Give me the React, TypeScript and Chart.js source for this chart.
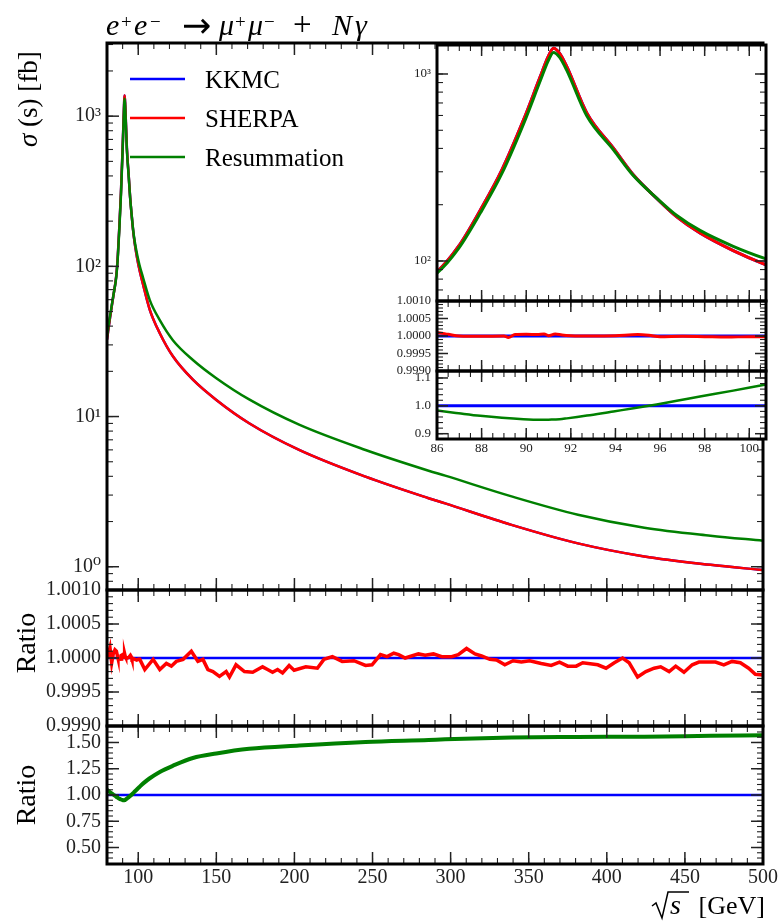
import React, { useEffect, useRef } from "react";
import { Chart, registerables } from "chart.js";

Chart.register(...registerables);

const SERIF = '"Liberation Serif", "DejaVu Serif", serif';

// ---------------- data ----------------
// centre-of-mass energy sqrt(s) [GeV]
const sqrtS = [
  80, 82, 84, 86, 86.97, 87.94, 88.91, 89.88, 90.63, 91.0, 91.22, 91.5, 91.82, 92.72,
  93.91, 94.81, 95.85, 96.75, 97.79, 99.28, 100.75, 103.2, 107.4, 113.8, 122.3, 135,
  150, 171, 203, 245.5, 285.9, 296.5, 339, 381.5, 424, 466.4, 500,
];
// sigma(s) [fb]
const kkmcXsec = [
  32.5, 46, 63, 87.7, 120, 187, 307, 568, 968, 1250, 1372, 1290, 1094, 617,
  401, 288, 216, 172, 141, 113.6, 95.3, 75, 51.4, 35.9, 25.1, 17.6,
  12.9, 9.03, 6.0, 3.98, 2.86, 2.64, 1.9, 1.43, 1.17, 1.03, 0.95,
];
const sherpaXsec = [
  32.5, 46, 63, 87.7, 120, 187, 307, 568, 968, 1250, 1372, 1290, 1094, 617,
  401, 288, 216, 172, 141, 113.6, 95.3, 75, 51.4, 35.9, 25.1, 17.6,
  12.9, 9.03, 6.0, 3.98, 2.86, 2.64, 1.9, 1.43, 1.17, 1.03, 0.95,
];
const resumXsec = [
  34.1, 47.2, 63.3, 86.2, 116.8, 180.3, 293.8, 540.7, 919.6, 1187.5, 1304.8, 1228, 1044.8, 595.4,
  393, 285.4, 217.1, 175.1, 145.7, 119.8, 102.6, 83.3, 59.6, 43.8, 32.1, 23.8,
  18.0, 13.0, 8.83, 5.99, 4.36, 4.04, 2.94, 2.22, 1.82, 1.61, 1.49,
];
// SHERPA / KKMC ratio (statistical wiggles)
const sherpaRatioS = [
  80, 80.8, 81.9, 83.0, 84.0, 85.1, 86.0, 86.5, 87.0, 88.0, 89.0, 89.2, 89.5, 90.0, 90.5,
  90.8, 91.0, 91.3, 91.6, 92.0, 93.0, 94.0, 95.0, 95.5, 96.0, 97.0, 98.0, 99.0, 100.0,
  101.0, 104.2, 109.5, 113.8, 118.0, 121.2, 124.4, 128.7, 134.0, 138.2, 141.4, 144.6,
  147.8, 152.0, 156.3, 158.4, 162.6, 168.0, 173.3, 179.6, 182.8, 186.0, 189.2, 192.4,
  196.6, 199.8, 207.3, 214.7, 218.9, 224.3, 230.6, 238.1, 245.5, 249.7, 255.1, 259.3,
  263.6, 266.7, 270.9, 279.4, 283.7, 289.0, 294.3, 300.7, 304.9, 310.2, 315.6, 319.8,
  325.1, 329.4, 334.7, 340.0, 345.3, 350.6, 358.0, 364.4, 369.7, 375.0, 380.4, 384.6,
  394.2, 399.5, 404.8, 410.1, 414.3, 419.7, 425.0, 430.3, 434.5, 439.9, 444.1, 449.4,
  454.7, 459.0, 464.3, 469.6, 474.9, 480.2, 485.5, 490.8, 495.1, 500.0,
];
const sherpaRatio = [
  1.00008, 1.00005, 1.00015, 0.99993, 1.00006, 1.00012, 1.0001, 1.00005, 1.0, 0.99999, 1.0,
  0.99996, 1.00004, 1.00005, 1.00004, 1.00006, 1.00001, 1.00006, 1.00003, 1.00001, 1.0,
  1.00001, 1.00004, 1.00002, 0.99998, 0.99999, 0.99998, 0.99997, 0.99998, 0.99998,
  0.99983, 0.99998, 0.99983, 0.99992, 0.99988, 0.99995, 0.99998, 1.0001, 0.99995, 0.99998,
  0.99983, 0.9998, 0.99973, 0.9998, 0.99972, 0.9999, 0.9998, 0.99979, 0.99987, 0.99983,
  0.99979, 0.99983, 0.99978, 0.99989, 0.99982, 0.99987, 0.99985, 0.99998, 1.00002,
  0.99995, 0.99996, 0.99989, 0.9999, 1.00005, 1.00002, 1.00007, 1.00005, 1.0, 1.00006,
  1.00004, 1.00006, 1.00002, 1.00002, 1.00005, 1.00014, 1.00006, 1.00003, 0.99998,
  0.99997, 0.9999, 0.99996, 0.99994, 0.99996, 0.99992, 0.99989, 0.99994, 0.99988,
  0.99988, 0.99993, 0.9999, 0.99985, 0.99993, 1.0, 0.99993, 0.99972, 0.9998, 0.99985,
  0.99987, 0.9998, 0.99988, 0.99979, 0.9999, 0.99994, 0.99994, 0.99994, 0.9999,
  0.99995, 0.99993, 0.99985, 0.99976, 0.99975,
];

// tick labels
const mainXTicks = [100, 150, 200, 250, 300, 350, 400, 450, 500];
const mainLogTicks = [1, 10, 100, 1000];
const ratio1Ticks = [0.999, 0.9995, 1.0, 1.0005, 1.001];
const ratio2Ticks = [0.5, 0.75, 1.0, 1.25, 1.5];
const insetXTicks = [86, 88, 90, 92, 94, 96, 98, 100];
const insetLogTicks = [100, 1000];
const insetRatio2Ticks = [0.9, 1.0, 1.1];
const SUP: Record<string, string> = { "1": "10⁰", "10": "10¹", "100": "10²", "1000": "10³" };

// ---------------- helpers ----------------
const pts = (xs: number[], ys: number[]) => xs.map((x, i) => ({ x, y: ys[i] }));
const unity = (xs: number[]) => xs.map((x) => ({ x, y: 1 }));
const ratioPts = (xs: number[], a: number[], b: number[]) => xs.map((x, i) => ({ x, y: a[i] / b[i] }));

function stepTicks(min: number, max: number, step: number) {
  const out: number[] = [];
  const n0 = Math.ceil(min / step - 1e-9);
  const n1 = Math.floor(max / step + 1e-9);
  for (let n = n0; n <= n1; n++) out.push(+(n * step).toFixed(10));
  return out;
}
function logMinor(min: number, max: number) {
  const out: number[] = [];
  for (let d = Math.floor(Math.log10(min)); d <= Math.ceil(Math.log10(max)); d++) {
    for (let k = 1; k <= 9; k++) {
      const v = k * Math.pow(10, d);
      if (v >= min && v <= max) out.push(v);
    }
  }
  return out;
}

type Panel = { id: string; major: number[]; minor: number[] };

function framePlugin(cfg: {
  xMajor: number[];
  xMinor: number[];
  panels: Panel[];
  majLen: number;
  minLen: number;
  frame: number;
  white?: boolean;
}) {
  return {
    id: "frameTicks",
    beforeDraw(chart: any) {
      if (!cfg.white) return;
      const { left, right, top, bottom } = chart.chartArea;
      const ctx = chart.ctx;
      ctx.save();
      ctx.fillStyle = "#ffffff";
      ctx.fillRect(left, top, right - left, bottom - top);
      ctx.restore();
    },
    afterDraw(chart: any) {
      const ctx = chart.ctx;
      const xs = chart.scales.x;
      const { left, right } = chart.chartArea;
      ctx.save();
      ctx.strokeStyle = "#222";
      ctx.lineCap = "butt";
      const seg = (x1: number, y1: number, x2: number, y2: number, w: number) => {
        ctx.lineWidth = w;
        ctx.beginPath();
        ctx.moveTo(x1, y1);
        ctx.lineTo(x2, y2);
        ctx.stroke();
      };
      for (const p of cfg.panels) {
        const ys = chart.scales[p.id];
        const top = ys.top;
        const bottom = ys.bottom;
        const xt = (vals: number[], len: number, w: number) =>
          vals.forEach((v) => {
            const x = xs.getPixelForValue(v);
            if (x <= left + 1.5 || x >= right - 1.5) return;
            seg(x, top, x, top + len, w);
            seg(x, bottom, x, bottom - len, w);
          });
        const yt = (vals: number[], len: number, w: number) =>
          vals.forEach((v) => {
            const y = ys.getPixelForValue(v);
            if (y <= top + 1.5 || y >= bottom - 1.5) return;
            seg(left, y, left + len, y, w);
            seg(right, y, right - len, y, w);
          });
        xt(cfg.xMinor, cfg.minLen, 1.1);
        xt(cfg.xMajor, cfg.majLen, 1.5);
        yt(p.minor, cfg.minLen, 1.1);
        yt(p.major, cfg.majLen, 1.5);
      }
      ctx.strokeStyle = "#000";
      ctx.lineWidth = cfg.frame;
      for (const p of cfg.panels) {
        const ys = chart.scales[p.id];
        ctx.strokeRect(left, ys.top, right - left, ys.bottom - ys.top);
      }
      ctx.restore();
    },
  };
}

const textPlugin = {
  id: "texts",
  afterDraw(chart: any) {
    const ctx = chart.ctx;
    const it = (px: number) => `italic ${px}px ${SERIF}`;
    const rm = (px: number) => `${px}px ${SERIF}`;
    ctx.save();
    ctx.fillStyle = "#000";
    ctx.textBaseline = "alphabetic";
    ctx.textAlign = "left";
    const T = (s: string, font: string, x: number, y: number) => {
      ctx.font = font;
      ctx.fillText(s, x, y);
    };
    // title  e+e- -> mu+mu- + N gamma
    const L = it(30);
    const S = rm(19);
    T("e", L, 106, 35);
    T("+", S, 121, 28);
    T("e", L, 134, 35);
    T("−", S, 150, 28);
    T("→", '35px "DejaVu Sans", sans-serif', 182, 37);
    T("μ", L, 219, 35);
    T("+", S, 235, 28);
    T("μ", L, 248, 35);
    T("−", S, 264, 28);
    T("+", rm(33), 293, 35);
    T("N", L, 332, 35);
    T("γ", L, 355, 35);

    // y title (rotated)
    ctx.save();
    ctx.translate(37, 147);
    ctx.rotate(-Math.PI / 2);
    ctx.font = it(27);
    ctx.fillText("σ", 0, 0);
    const w = ctx.measureText("σ").width;
    ctx.font = rm(27);
    ctx.fillText(" (s) [fb]", w, 0);
    ctx.restore();

    // ratio labels
    const ratioLab = (yc: number) => {
      ctx.save();
      ctx.translate(35, yc);
      ctx.rotate(-Math.PI / 2);
      ctx.textAlign = "center";
      ctx.font = rm(28);
      ctx.fillText("Ratio", 0, 0);
      ctx.restore();
    };
    ratioLab(643);
    ratioLab(795);

    // x title  sqrt(s) [GeV]
    ctx.strokeStyle = "#000";
    ctx.lineWidth = 1.5;
    ctx.beginPath();
    ctx.moveTo(652, 906);
    ctx.lineTo(656, 903);
    ctx.lineTo(662, 918);
    ctx.lineTo(668, 892);
    ctx.lineTo(689, 892);
    ctx.stroke();
    T("s", it(28), 670, 914);
    ctx.textAlign = "right";
    T("[GeV]", rm(26), 765, 914);
    ctx.textAlign = "left";

    // legend
    const ly = [79, 118, 157];
    chart.data.datasets.slice(0, 3).forEach((ds: any, i: number) => {
      ctx.strokeStyle = ds.borderColor;
      ctx.lineWidth = 2.5;
      ctx.beginPath();
      ctx.moveTo(130, ly[i]);
      ctx.lineTo(185, ly[i]);
      ctx.stroke();
      T(ds.label, rm(25), 205, ly[i] + 9);
    });
    ctx.restore();
  },
};

const tickFont = (size: number) => ({ family: SERIF, size });
const TICK_COLOR = "#222";

function yAxis(opts: any) {
  const { ticks, fmt, width, fontSize, pad, ...rest } = opts;
  return {
    position: "left",
    bounds: "data",
    grid: { display: false, drawTicks: false },
    border: { display: false },
    afterFit: (s: any) => {
      s.width = width;
    },
    afterBuildTicks: (s: any) => {
      s.ticks = ticks.map((v: number) => ({ value: v }));
    },
    ticks: {
      autoSkip: false,
      padding: pad,
      color: TICK_COLOR,
      font: tickFont(fontSize),
      callback: fmt,
    },
    ...rest,
  };
}

function xAxis(opts: any) {
  const { ticks, min, max, height, fontSize, pad } = opts;
  return {
    type: "linear",
    position: "bottom",
    min,
    max,
    bounds: "data",
    grid: { display: false, drawTicks: false },
    border: { display: false },
    afterFit: (s: any) => {
      s.height = height;
    },
    afterBuildTicks: (s: any) => {
      s.ticks = ticks.map((v: number) => ({ value: v }));
    },
    ticks: {
      autoSkip: false,
      maxRotation: 0,
      padding: pad,
      color: TICK_COLOR,
      font: tickFont(fontSize),
      callback: (v: any) => String(v),
    },
  };
}

const BLUE = "#0000ff";
const RED = "#ff0000";
const GREEN = "#008000";

function line(
  label: string,
  data: any[],
  yAxisID: string,
  color: string,
  width: number,
  order: number,
  smooth = true
) {
  return {
    label,
    data,
    yAxisID,
    borderColor: color,
    backgroundColor: color,
    borderWidth: width,
    pointRadius: 0,
    tension: 0,
    cubicInterpolationMode: smooth ? "monotone" : "default",
    fill: false,
    order,
  };
}

function mainConfig(): any {
  return {
    type: "line",
    data: {
      datasets: [
        line("KKMC", pts(sqrtS, kkmcXsec), "yMain", BLUE, 2.5, 2),
        line("SHERPA", pts(sqrtS, sherpaXsec), "yMain", RED, 2.5, 1),
        line("Resummation", pts(sqrtS, resumXsec), "yMain", GREEN, 2.5, 0),
        line("KKMC/KKMC", unity(sqrtS), "yR1", BLUE, 2.5, 4),
        line("SHERPA/KKMC", pts(sherpaRatioS, sherpaRatio), "yR1", RED, 3.5, 3, false),
        line("KKMC/KKMC", unity(sqrtS), "yR2", BLUE, 2.5, 6),
        line("Resummation/KKMC", ratioPts(sqrtS, resumXsec, kkmcXsec), "yR2", GREEN, 4, 5),
      ],
    },
    options: {
      responsive: false,
      animation: false,
      events: [],
      layout: { padding: { top: 43, right: 14, left: 0, bottom: 0 } },
      plugins: { legend: { display: false }, tooltip: { enabled: false }, title: { display: false } },
      scales: {
        x: xAxis({ ticks: mainXTicks, min: 80, max: 500, height: 58, fontSize: 20, pad: 2 }),
        yMain: yAxis({
          type: "logarithmic",
          min: 0.7,
          max: 3070,
          stack: "main",
          stackWeight: 547,
          weight: 3,
          ticks: mainLogTicks,
          fmt: (v: any) => SUP[String(v)] ?? "",
          width: 107,
          fontSize: 20,
          pad: 6,
        }),
        yR1: yAxis({
          type: "linear",
          min: 0.999,
          max: 1.001,
          stack: "main",
          stackWeight: 136,
          weight: 2,
          ticks: ratio1Ticks,
          fmt: (v: any) => Number(v).toFixed(4),
          width: 107,
          fontSize: 20,
          pad: 6,
        }),
        yR2: yAxis({
          type: "linear",
          min: 0.343,
          max: 1.657,
          stack: "main",
          stackWeight: 138,
          weight: 1,
          ticks: ratio2Ticks,
          fmt: (v: any) => Number(v).toFixed(2),
          width: 107,
          fontSize: 20,
          pad: 6,
        }),
      },
    },
    plugins: [
      framePlugin({
        xMajor: mainXTicks,
        xMinor: stepTicks(80, 500, 10),
        panels: [
          { id: "yMain", major: mainLogTicks, minor: logMinor(0.7, 3070) },
          { id: "yR1", major: ratio1Ticks, minor: stepTicks(0.999, 1.001, 0.0001) },
          { id: "yR2", major: ratio2Ticks, minor: stepTicks(0.343, 1.657, 0.05) },
        ],
        majLen: 12,
        minLen: 6,
        frame: 3,
      }),
      textPlugin,
    ],
  };
}

function insetConfig(): any {
  return {
    type: "line",
    data: {
      datasets: [
        line("KKMC", pts(sqrtS, kkmcXsec), "yI", BLUE, 3, 2),
        line("SHERPA", pts(sqrtS, sherpaXsec), "yI", RED, 3, 1),
        line("Resummation", pts(sqrtS, resumXsec), "yI", GREEN, 3, 0),
        line("KKMC/KKMC", unity(sqrtS), "yIR1", BLUE, 3, 4),
        line("SHERPA/KKMC", pts(sherpaRatioS, sherpaRatio), "yIR1", RED, 3, 3),
        line("KKMC/KKMC", unity(sqrtS), "yIR2", BLUE, 3, 6),
        line("Resummation/KKMC", ratioPts(sqrtS, resumXsec, kkmcXsec), "yIR2", GREEN, 2.5, 5),
      ],
    },
    options: {
      responsive: false,
      animation: false,
      events: [],
      layout: { padding: { top: 15, right: 14, left: 0, bottom: 0 } },
      plugins: { legend: { display: false }, tooltip: { enabled: false }, title: { display: false } },
      scales: {
        x: xAxis({ ticks: insetXTicks, min: 86, max: 100.75, height: 31, fontSize: 13, pad: 2 }),
        yI: yAxis({
          type: "logarithmic",
          min: 61.1,
          max: 1429,
          stack: "inset",
          stackWeight: 256,
          weight: 3,
          ticks: insetLogTicks,
          fmt: (v: any) => SUP[String(v)] ?? "",
          width: 57,
          fontSize: 13,
          pad: 6,
        }),
        yIR1: yAxis({
          type: "linear",
          min: 0.999,
          max: 1.001,
          stack: "inset",
          stackWeight: 70,
          weight: 2,
          ticks: ratio1Ticks,
          fmt: (v: any) => Number(v).toFixed(4),
          width: 57,
          fontSize: 12.5,
          pad: 6,
        }),
        yIR2: yAxis({
          type: "linear",
          min: 0.881,
          max: 1.125,
          stack: "inset",
          stackWeight: 68,
          weight: 1,
          ticks: insetRatio2Ticks,
          fmt: (v: any) => Number(v).toFixed(1),
          width: 57,
          fontSize: 13,
          pad: 6,
        }),
      },
    },
    plugins: [
      framePlugin({
        xMajor: insetXTicks,
        xMinor: stepTicks(86, 100.75, 0.5),
        panels: [
          { id: "yI", major: insetLogTicks, minor: logMinor(61.1, 1429) },
          { id: "yIR1", major: ratio1Ticks, minor: stepTicks(0.999, 1.001, 0.0001) },
          { id: "yIR2", major: insetRatio2Ticks, minor: stepTicks(0.881, 1.125, 0.02) },
        ],
        majLen: 11,
        minLen: 6,
        frame: 3,
        white: true,
      }),
    ],
  };
}

export default function App() {
  const mainRef = useRef<HTMLCanvasElement>(null);
  const insetRef = useRef<HTMLCanvasElement>(null);
  useEffect(() => {
    const c1 = new Chart(mainRef.current as HTMLCanvasElement, mainConfig());
    const c2 = new Chart(insetRef.current as HTMLCanvasElement, insetConfig());
    return () => {
      c1.destroy();
      c2.destroy();
    };
  }, []);
  return (
    <div style={{ position: "absolute", left: 0, top: 0, width: 780, height: 922, background: "#fff" }}>
      <canvas
        ref={mainRef}
        width={780}
        height={922}
        style={{ position: "absolute", left: 0, top: 0, width: 780, height: 922 }}
      />
      <canvas
        ref={insetRef}
        width={400}
        height={440}
        style={{ position: "absolute", left: 380, top: 30, width: 400, height: 440 }}
      />
    </div>
  );
}
